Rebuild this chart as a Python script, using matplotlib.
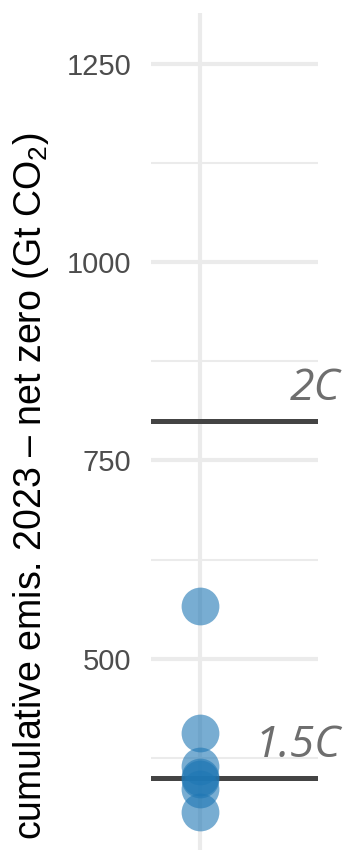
"""
Cumulative CO2 emissions from 2023 until net zero, one strip of scenarios
with the 1.5C and 2C carbon budgets drawn across it.
"""

import matplotlib
matplotlib.use("Agg")
from matplotlib import pyplot as plt
from matplotlib.ticker import MultipleLocator

# scenario values (Gt CO2)
emissions = [566, 407, 365, 351, 349, 336, 307]
# carbon budgets
budget_labels = ["2C", "1.5C"]
budget_values = [800, 350]

major_ticks = [500, 750, 1000, 1250]

plt.rcParams["font.family"] = ["Liberation Sans", "DejaVu Sans"]
plt.rcParams["mathtext.fontset"] = "custom"
plt.rcParams["mathtext.rm"] = "Liberation Sans"

fig = plt.figure(figsize=(3.47, 8.5), dpi=100)
ax = fig.add_axes([0.435, 0.0, 0.481, 0.985])

ax.set_xlim(0.51, 2.18)
ax.set_ylim(259, 1314)

# grid in the theme_minimal style
ax.set_yticks(major_ticks)
ax.yaxis.set_minor_locator(MultipleLocator(250, offset=125))
ax.grid(axis="y", which="major", color="#ebebeb", linewidth=3.0, zorder=0)
ax.grid(axis="y", which="minor", color="#ebebeb", linewidth=1.5, zorder=0)
ax.axvline(1, color="#ebebeb", linewidth=3.0, zorder=0)

for val, lab in zip(budget_values, budget_labels):
    ax.axhline(val, color="#444444", linewidth=3.6, zorder=2)
    ax.annotate(lab, xy=(1.135, val), xycoords=("axes fraction", "data"),
                xytext=(0, 7), textcoords="offset points",
                ha="right", va="bottom", fontsize=32, style="italic",
                color="#6e6e6e", family="Open Sans", annotation_clip=False)

ax.scatter([1] * len(emissions), emissions, s=740, color="#1f77b4",
           alpha=0.6, linewidths=0, zorder=3)

ax.set_xticks([])
ax.tick_params(axis="y", which="both", length=0, pad=14,
               labelsize=21, labelcolor="#4d4d4d")
for s in ax.spines.values():
    s.set_visible(False)

ax.set_ylabel("cumulative emis. 2023 \u2013 net zero (Gt CO$\\mathrm{_2}$)",
              fontsize=27, color="black")
ax.yaxis.set_label_coords(-0.6, 0.435)

fig.savefig("out.png", dpi=100)
